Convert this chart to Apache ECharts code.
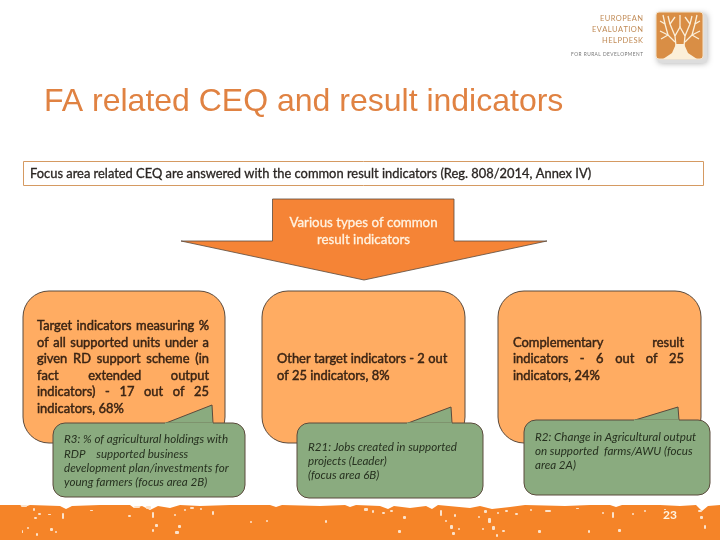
<!DOCTYPE html>
<html><head><meta charset="utf-8">
<style>html,body{margin:0;padding:0;background:#fff}#c{width:720px;height:540px}</style>
<script src="https://cdn.jsdelivr.net/npm/echarts@6/dist/echarts.min.js"></script>
</head><body><div id="c"></div>
<script>
const titleText = 'FA related CEQ and result indicators';
const bannerText = 'Focus area related CEQ are answered with the common result indicators (Reg. 808/2014, Annex IV)';
const arrowLines = ['Various types of common', 'result indicators'];
const box1Lines = ['Target indicators measuring %','of all supported units under a','given RD support scheme (in','fact extended output','indicators) - 17 out of 25','indicators, 68%'];
const box1Just = [1,1,1,1,1,0];
const box2Lines = ['Other target indicators - 2 out','of 25 indicators, 8%'];
const box3Lines = ['Complementary result','indicators - 6 out of 25','indicators, 24%'];
const box3Just = [1,1,0];
const note1Lines = ['R3: % of agricultural holdings with','RDP    supported business','development plan/investments for','young farmers (focus area 2B)'];
const note2Lines = ['R21: Jobs created in supported','projects (Leader)','(focus area 6B)'];
const note3Lines = ['R2: Change in Agricultural output','on supported  farms/AWU (focus','area 2A)'];
const logoLines = ['EUROPEAN','EVALUATION','HELPDESK'];
const logoSub = 'FOR RURAL DEVELOPMENT';
const pageNumber = '23';

const ORANGE='#F58436', SOFT='#FFAC62', GREEN='#8AAB7F', EDGE='#5B4A3C', DARK='#3A2414';
const FONT='Lato, Carlito, "Open Sans", sans-serif';
const g=[];
const ctx=document.createElement('canvas').getContext('2d');
function fontOf(o){return (o.italic?'italic ':'')+(o.bold?'bold ':'')+(o.size||12)+'px '+(o.family||FONT);}
function txt(s,x,y,o){o=o||{};g.push({type:'text',z:o.z||10,style:{text:s,x:x,y:y,fill:o.fill||DARK,font:fontOf(o),textAlign:o.align||'left',textVerticalAlign:'middle',stroke:o.heavy?(o.fill||DARK):null,lineWidth:o.heavy||0}});}
function just(s,x,y,w,o){
  const words=s.split(' ');ctx.font=fontOf(o);
  const sum=words.reduce((a,b)=>a+ctx.measureText(b).width,0);const gap=(w-sum)/(words.length-1);let cx=x;
  words.forEach(k=>{txt(k,cx,y,o);cx+=ctx.measureText(k).width+gap;});
}
function spaced(s,x,y,w,o){
  ctx.font=fontOf(o);const chars=s.split('');
  const sum=chars.reduce((a,b)=>a+ctx.measureText(b).width,0);const gap=(w-sum)/(chars.length-1);let cx=x;
  chars.forEach(k=>{txt(k,cx,y,o);cx+=ctx.measureText(k).width+gap;});
}
function rr(x,y,w,h,r,fill,z){g.push({type:'rect',z:z,shape:{x,y,width:w,height:h,r},style:{fill,stroke:EDGE,lineWidth:1}});}
function callout(x,y,w,h,tail){
  g.push({type:'polygon',z:6,shape:{points:tail},style:{fill:GREEN,stroke:EDGE,lineWidth:1}});
  rr(x,y,w,h,12,GREEN,5);
  g.push({type:'line',z:7,shape:{x1:tail[0][0]-1,y1:y+0.5,x2:tail[2][0]+0,y2:y+0.5},style:{stroke:GREEN,lineWidth:2}});
}

// title + banner
txt(titleText,44,102,{family:'"Liberation Sans",Arial,sans-serif',size:32,fill:'#E08242'});
g.push({type:'rect',z:3,shape:{x:23.5,y:161.5,width:680,height:24},style:{fill:'#fff',stroke:'#D59A62',lineWidth:1}});
txt(bannerText,30,173.5,{size:12.9,fill:'#2A2522',heavy:0.3});

// arrow
g.push({type:'polygon',z:3,shape:{points:[[272.5,199],[454,199],[454,241],[547,241],[364,280],[181,241],[272.5,241]]},style:{fill:ORANGE,stroke:EDGE,lineWidth:0.8}});
txt(arrowLines[0],363.5,222.5,{size:13.3,fill:'#FFF3E2',heavy:0.3,align:'center'});
txt(arrowLines[1],363.5,239.5,{size:13.3,fill:'#FFF3E2',heavy:0.3,align:'center'});

// orange panels
rr(23,291,202,152,26,SOFT,2);
rr(262,291,203,152,26,SOFT,2);
rr(498,291,203,152,26,SOFT,2);
const b1y=[326,342.5,359,375.5,392,409];
box1Lines.forEach((s,i)=>{const o={size:12.9,bold:false,heavy:0.45,fill:DARK};box1Just[i]?just(s,37,b1y[i],172,o):txt(s,37,b1y[i],o);});
const b2y=[358.5,375.5];
box2Lines.forEach((s,i)=>txt(s,277,b2y[i],{size:12.9,heavy:0.45}));
const b3y=[342.5,359,375.5];
box3Lines.forEach((s,i)=>{const o={size:12.9,heavy:0.45};box3Just[i]?just(s,513,b3y[i],171,o):txt(s,513,b3y[i],o);});

// green callouts
callout(53,423,192,74,[[166,423],[212,405],[213,423]]);
callout(297,423,186,75,[[408,423],[451,407],[452,423]]);
callout(524,420,186,75,[[635,420],[678,407],[679,420]]);
const n1y=[439,454,468,482];
note1Lines.forEach((s,i)=>txt(s,64,n1y[i],{size:11.6,italic:true,fill:'#26301F'}));
const n2y=[447,461,475];
note2Lines.forEach((s,i)=>txt(s,308,n2y[i],{size:11.6,italic:true,fill:'#26301F'}));
const n3y=[437,451,465];
note3Lines.forEach((s,i)=>txt(s,535,n3y[i],{size:11.6,italic:true,fill:'#26301F'}));

// footer band with a rough, torn top edge
const edge=[[0,505],[20,505],[24,507],[30,505],[60,506],[66,509],[72,506],[100,505],[130,505],[134,508],[142,506],[150,510],[158,506],[170,508],[180,505],[200,506],[230,505],[270,505],[276,507],[282,505],[320,506],[345,505],[350,507],[356,505],[380,506],[388,509],[394,506],[410,508],[426,506],[432,509],[438,505],[470,508],[480,506],[492,509],[510,507],[525,505],[565,506],[590,505],[610,505],[616,507],[622,505],[660,505],[680,506],[696,505],[702,511],[708,506],[720,505],[720,540],[0,540]];
g.push({type:'polygon',z:1,shape:{points:edge},style:{fill:'#F58428'}});
const specks=[[21,505,6,2],[33,508,2,3],[38,513,3,2],[34,517,3,2],[62,513,2,6],[48,514,3,1],[27,527,2,2],[22,530,1,3],[36,533,2,3],[50,528,3,3],[55,531,2,2],[90,510,3,1],[128,515,3,2],[134,506,6,2],[146,506,5,3],[152,512,2,6],[155,524,3,3],[152,529,2,3],[174,514,2,2],[175,531,4,3],[178,525,3,3],[184,509,2,2],[190,507,4,2],[200,508,2,2],[212,511,2,4],[250,521,2,2],[266,520,2,2],[325,520,2,3],[364,508,4,3],[372,510,2,3],[382,512,3,2],[390,510,3,2],[403,516,3,3],[398,530,3,3],[440,510,2,6],[445,520,2,2],[450,525,3,4],[452,532,3,3],[454,514,2,3],[458,528,2,2],[484,510,3,3],[488,518,3,5],[492,526,3,4],[482,528,2,2],[496,534,2,3],[478,516,2,2],[505,510,3,2],[515,513,3,2],[497,512,2,2],[530,509,2,2],[538,530,3,3],[502,530,3,2],[612,512,2,6],[618,529,3,3],[602,512,2,2],[632,513,2,2],[588,530,2,3],[700,516,3,3],[704,525,2,4],[698,510,4,2],[664,509,2,1],[644,510,2,2],[545,510,6,2],[576,508,3,1]];
specks.forEach(p=>g.push({type:'rect',z:1,shape:{x:p[0],y:p[1],width:p[2],height:p[3],r:1},style:{fill:'#FBE3CC'}}));
txt(pageNumber,663,515.5,{size:12,bold:true,fill:'#FFF4E0'});

// logo
g.push({type:'rect',z:1,shape:{x:658,y:14,width:49,height:49,r:3},style:{fill:'#ddd',shadowBlur:6,shadowColor:'rgba(0,0,0,.35)'}});
g.push({type:'rect',z:2,shape:{x:656,y:12,width:47,height:47,r:3},style:{fill:'#D98E45',stroke:'#F3E3CC',lineWidth:1}});
const C='#FBEFD9';
[[[676,46],[675,36],[680,27],[685,36],[684,46]],[[675,42],[668,35],[660,31]],[[685,42],[692,35],[700,31]],[[668,35],[661,39]],[[692,35],[699,39]],[[668,35],[665,24],[660,21]],[[692,35],[695,24],[700,21]],[[675,36],[670,24],[668,16]],[[685,36],[690,24],[692,16]],[[680,27],[680,15]],[[670,24],[675,17]],[[690,24],[685,17]],[[665,24],[663,15]],[[695,24],[697,15]]].forEach(p=>g.push({type:'polyline',z:3,shape:{points:p},style:{stroke:C,fill:null,lineWidth:1.3}}));
g.push({type:'polygon',z:3,shape:{points:[[663,59],[697,59],[688,53],[684,44],[676,44],[672,53]]},style:{fill:C}});
const logoX=[600,592,602], logoW=[43,51,41];
logoLines.forEach((s,i)=>spaced(s,logoX[i],[18.5,30,41][i],logoW[i],{size:7.5,fill:'#C08A55'}));
spaced(logoSub,571,54,72,{size:4.8,fill:'#777'});

const chart=echarts.init(document.getElementById('c'),null,{renderer:'canvas'});
chart.setOption({animation:false,backgroundColor:'#fff',graphic:{elements:g}});
</script></body></html>
